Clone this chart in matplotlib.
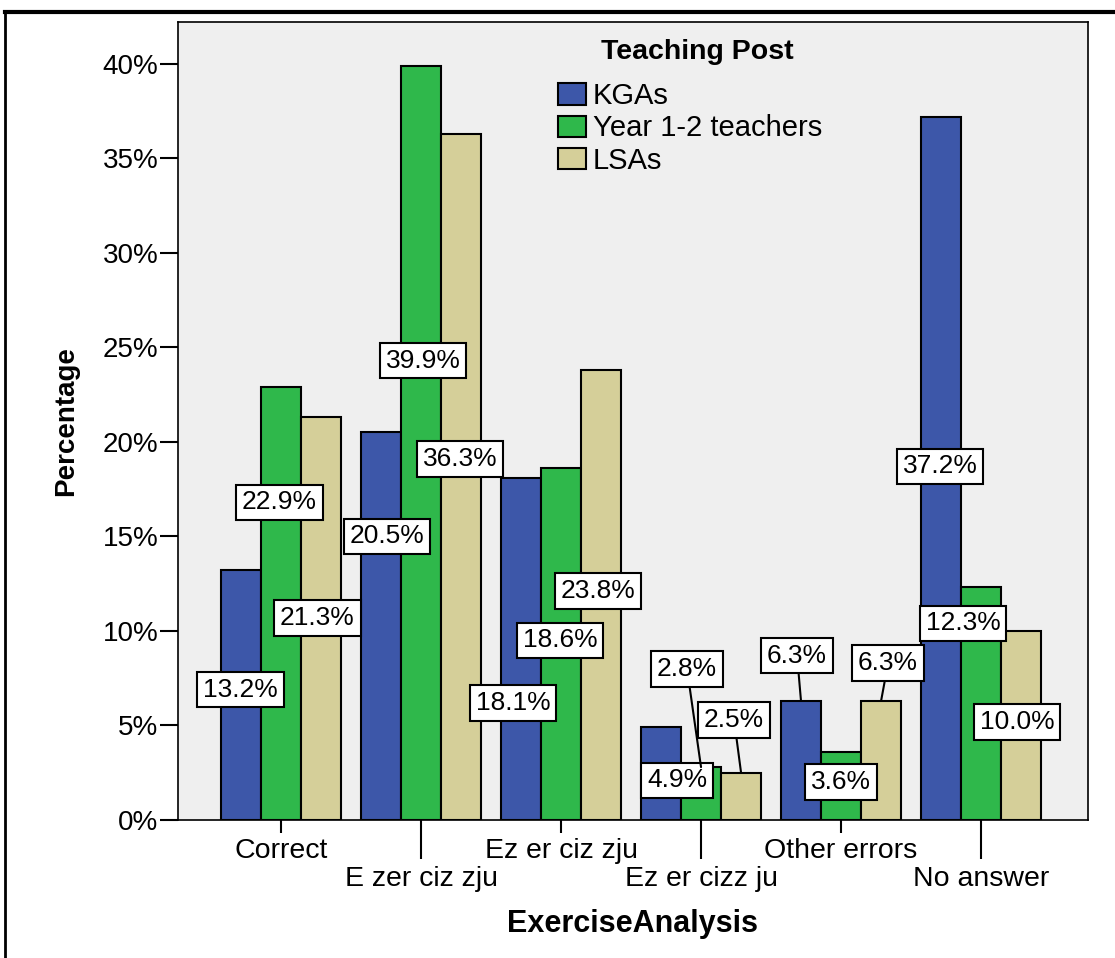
import numpy as np
import matplotlib
matplotlib.use("Agg")
from matplotlib import pyplot as plt
from matplotlib.lines import Line2D

plt.rcParams['font.family'] = ['Liberation Sans', 'DejaVu Sans']

# data
categories = ['Correct', 'E zer ciz zju', 'Ez er ciz zju', 'Ez er cizz ju', 'Other errors', 'No answer']
series_names = ['KGAs', 'Year 1-2 teachers', 'LSAs']
kgas = [13.2, 20.5, 18.1, 4.9, 6.3, 37.2]
year12 = [22.9, 39.9, 18.6, 2.8, 3.6, 12.3]
lsas = [21.3, 36.3, 23.8, 2.5, 6.3, 10.0]
series = [kgas, year12, lsas]
colors = ['#3d57a9', '#2fb84b', '#d5cf99']

# where each value label box sits (x offset from group centre, y in %)
label_dx = [[-0.29, -0.243, -0.343, -0.171, -0.314, -0.293],
            [-0.01, 0.014, -0.007, -0.10, 0.0, -0.129],
            [0.26, 0.279, 0.264, 0.236, 0.336, 0.257]]
label_y = [[6.9, 15.0, 6.2, 2.1, 8.7, 18.7],
           [16.8, 24.3, 9.5, 8.0, 2.0, 10.4],
           [10.7, 19.1, 12.1, 5.3, 8.3, 5.2]]

fig = plt.figure(figsize=(11.15, 9.58), dpi=100)
ax = fig.add_axes([0.1596, 0.144, 0.8162, 0.833])
ax.set_facecolor('#efefef')

x = np.arange(len(categories))
w = 0.286
for i, (vals, c, name) in enumerate(zip(series, colors, series_names)):
    ax.bar(x + (i - 1) * w, vals, w, color=c, edgecolor='black', linewidth=1.5,
           label=name, zorder=2)

for i, vals in enumerate(series):
    for j, v in enumerate(vals):
        bx = j + (i - 1) * w
        lx = j + label_dx[i][j]
        ly = label_y[i][j]
        props = None
        if ly - 0.9 > v:  # label sits above the bar -> leader line
            props = dict(arrowstyle='-', color='black', lw=1.5, shrinkA=0, shrinkB=0)
        ax.annotate('%.1f%%' % v, xy=(bx, v), xytext=(lx, ly), textcoords='data',
                    ha='center', va='center', fontsize=19, zorder=5,
                    bbox=dict(boxstyle='square,pad=0.22', fc='white', ec='black', lw=1.5),
                    arrowprops=props)

ax.set_xlim(-0.736, 5.764)
ax.set_ylim(0, 42.2)
ax.set_yticks(np.arange(0, 41, 5))
ax.set_yticklabels(['%d%%' % t for t in range(0, 41, 5)], fontsize=20)
ax.tick_params(axis='y', length=13, width=1.5, pad=1)

ax.set_xticks(x[::2])
ax.set_xticklabels(categories[::2], fontsize=20.5)
ax.set_xticks(x[1::2], minor=True)
ax.set_xticklabels(categories[1::2], minor=True, fontsize=20.5)
ax.tick_params(axis='x', which='major', length=9, width=1.5, pad=4)
ax.tick_params(axis='x', which='minor', length=28, width=1.5, pad=5)

for s in ax.spines.values():
    s.set_linewidth(1.2)

ax.set_ylabel('Percentage', fontsize=20, fontweight='bold')
ax.yaxis.set_label_coords(-0.109, 0.5)
ax.set_xlabel('ExerciseAnalysis', fontsize=22, fontweight='bold')
ax.xaxis.set_label_coords(0.5, -0.112)

leg = ax.legend(loc='upper left', bbox_to_anchor=(0.4176, 0.9248), frameon=False,
                fontsize=21, handlelength=0.95, handleheight=0.75,
                handletextpad=0.25, labelspacing=0.15, borderpad=0, borderaxespad=0)
fig.text(697 / 1115, 1 - 52 / 958, 'Teaching Post', fontsize=20.5, fontweight='bold',
         ha='center', va='center')

# outer frame
fig.add_artist(Line2D([5 / 1115, 1], [1 - 12 / 958] * 2, color='black', lw=3,
                      transform=fig.transFigure))
fig.add_artist(Line2D([5 / 1115] * 2, [0, 1 - 12 / 958], color='black', lw=2,
                      transform=fig.transFigure))

plt.savefig('out.png', dpi=100)
